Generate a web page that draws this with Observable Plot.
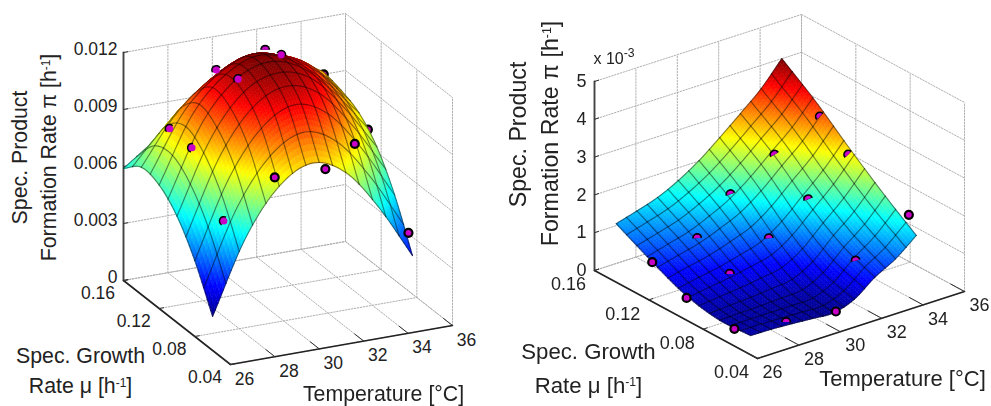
<!DOCTYPE html>
<html><head><meta charset="utf-8">
<script src="https://cdn.jsdelivr.net/npm/d3@7"></script>
<script src="https://cdn.jsdelivr.net/npm/@observablehq/plot@0.6"></script>
<style>html,body{margin:0;padding:0;background:#fff}#c{display:flex;width:991px;height:406px}svg{display:block}</style>
</head><body><div id="c"></div>
<script>
const temperatureTicks = [26,28,30,32,34,36];
const muTicks = [0.16,0.12,0.08,0.04];
const muTickLabels = ["0.16","0.12","0.08","0.04"];

// Left surface: read at these temperatures / growth rates
const leftT = [26,27.5,29,30.5,32,33.5,35];
const leftMu = [0.16,0.14,0.12,0.10,0.08,0.06];
const leftRow016 = [.0059,.0072,.0088,.0098,.0104,.0101,.00915];
const leftRow014 = [.0067,.0091,.0106,.0115,.0114,.0106,.0089];
const leftRow012 = [.0065,.0099,.0117,.0124,.0118,.0104,.00845];
const leftRow010 = [.0056,.00933,.01150,.0122,.01165,.0098,.0074];
const leftRow008 = [.0040,.00793,.01034,.01127,.01048,.00838,.0056];
const leftRow006 = [.0018,.00565,.00803,.00894,.00813,.00597,.00315];
const leftZTicks = [0,.003,.006,.009,.012];
const leftZLabels = ["0","0.003","0.006","0.009","0.012"];
const leftDotT  = [32,33,30,30,34,28,28,35,34,30,32,28,35];
const leftDotMu = [.1505,.1574,.1556,.131,.1346,.158,.133,.11,.0998,.09,.083,.0973,.0645];
const leftDotZ  = [.01126,.01054,.01042,.01085,.01014,.00765,.00757,.00794,.00777,.00719,.00747,.00503,.00418];
const leftDotKind = ["half","ring","ring","ring","behind","ring","ring","behind","full","full","full","ring","full"];
const leftDotTilt = [0,20,-30,-45,0,-45,-75,0,0,0,0,-60,0];

// Right surface (values in 10^-3 h^-1)
const rightT = [26,27,28,29,30,31,32,33,34];
const rightMu = [0.144,0.12,0.095,0.07,0.045];
const rightRow144 = [1.55,1.71,1.89,2.16,2.51,2.94,3.40,3.88,4.50];
const rightRow120 = [1.09,1.24,1.39,1.62,1.90,2.30,2.78,3.25,3.85];
const rightRow095 = [.68,.78,.87,1.00,1.15,1.50,2.00,2.50,3.10];
const rightRow070 = [.48,.50,.52,.55,.60,.88,1.38,1.82,2.39];
const rightRow045 = [.51,.50,.47,.43,.40,.58,.99,1.30,1.74];
const rightZTicks = [0,1,2,3,4,5];
const rightZLabels = ["0","1","2","3","4","5"];
const rightDotT  = [34,32,34,30,32,34,28.5,30,26,31.5,28.5,26,30.9,28.5,26];
const rightDotMu = [.116,.1189,.0951,.1208,.0941,.0505,.1225,.0926,.1175,.0515,.0985,.0922,.057,.057,.057];
const rightDotZ  = [3.51,2.80,2.91,2.07,2.10,2.18,1.14,1.45,1.045,1.39,.66,.59,.045,.19,.455];
const rightDotKind = ["half","half","half","half","half","full","half","half","full","half","half","full","full","half","full"];
const rightDotTilt = [-45,-30,-45,-20,-20,0,-5,-5,0,-15,0,0,0,0,0];

const FONT = "'Liberation Sans',Arial,sans-serif";
const JET = ["#000090","#0000ff","#00ffff","#ffff00","#ff0000","#800000"];
const JET_STOPS = [0,.125,.375,.625,.875,1];
const MAGENTA = "#c800c8";

function halfDisc(){return {draw(ctx,size){const r=Math.sqrt(size/Math.PI);ctx.moveTo(-r,0);ctx.arc(0,0,r,Math.PI,2*Math.PI);ctx.closePath();}};}

function catmull(a,b,c,d,t){return .5*(2*b+(c-a)*t+(2*a-5*b+4*c-d)*t*t+(3*b-a-3*c+d)*t*t*t);}
function at(arr,i){const n=arr.length;return i<0?2*arr[0]-arr[1]:i>=n?2*arr[n-1]-arr[n-2]:arr[i];}
function along(arr,f){const i=Math.min(Math.floor(f),arr.length-2),t=f-i;return catmull(at(arr,i-1),at(arr,i),at(arr,i+1),at(arr,i+2),t);}
function sample(rows,fr,fc){return along(rows.map(r=>along(r,fc)),fr);}

function panel(cfg){
  const {x0,w,origin,tVec,muVec,zPx,zMax}=cfg;
  const P=(T,mu,z)=>{const a=(T-26)/10,b=(.16-mu)/.12;return {x:origin[0]+a*tVec[0]+b*muVec[0],y:origin[1]+a*tVec[1]+b*muVec[1]-z*zPx};};
  const marks=[];
  const seg=(list,opt)=>marks.push(Plot.line(list.flatMap((s,i)=>s.map(p=>({...P(...p),id:i}))),{x:"x",y:"y",z:"id",...opt}));
  // grid
  const g=[];
  for(const T of temperatureTicks){g.push([[T,.16,0],[T,.04,0]]);g.push([[T,.16,0],[T,.16,zMax]]);}
  for(const m of muTicks){g.push([[26,m,0],[36,m,0]]);g.push([[36,m,0],[36,m,zMax]]);}
  for(const z of cfg.zTicks){g.push([[26,.16,z],[36,.16,z]]);g.push([[36,.16,z],[36,.04,z]]);}
  seg(g,{stroke:"#b0b0b0",strokeWidth:1,strokeDasharray:"1.5 1.5"});
  // axes
  seg([[[26,.16,0],[26,.16,zMax]]],{stroke:"#444",strokeWidth:1.9});
  seg([[[26,.16,0],[26,.04,0]],[[26,.04,0],[36,.04,0]]],{stroke:"#222",strokeWidth:1.6});
  const tks=[];
  for(const T of temperatureTicks) tks.push([[T,.04,0],[T,.05,0]]);
  for(const m of muTicks) tks.push([[26,m,0],[26.2,m,0]]);
  for(const z of cfg.zTicks) tks.push([[26,.16,z],[26.2,.16,z]]);
  seg(tks,{stroke:"#333",strokeWidth:1});

  const dots=cfg.dots.T.map((T,i)=>({...P(T,cfg.dots.mu[i],cfg.dots.z[i]),kind:cfg.dots.kind[i],tilt:cfg.dots.tilt[i]}));
  const fullStyle={x:"x",y:"y",r:4,fill:MAGENTA,stroke:"#000",strokeWidth:2.2};
  marks.push(Plot.dot(dots.filter(d=>d.kind==="behind"),fullStyle));

  // surface, painted from the far corner forwards
  const {rows,nT,nMu,sub,T0,T1,mu0,mu1}=cfg;
  const colMax=rows[0].length-1,rowMax=rows.length-1;
  const node=(a,b)=>{
    const fc=a/(nT*sub)*colMax,fr=b/(nMu*sub)*rowMax;
    const z=sample(rows,fr,fc);
    return {...P(T0+(T1-T0)*a/(nT*sub),mu0+(mu1-mu0)*b/(nMu*sub),z),v:z};
  };
  const N=[];
  for(let a=0;a<=nT*sub;a++){N[a]=[];for(let b=0;b<=nMu*sub;b++)N[a][b]=node(a,b);}
  const meshStyle={x:"x",y:"y",z:"id",stroke:"#000",strokeOpacity:.46,strokeWidth:1.15};
  for(let im=0;im<nMu;im++){
    for(let it=nT-1;it>=0;it--){
      const polys=[],edges=[];let id=0;
      for(let a=it*sub;a<(it+1)*sub;a++)for(let b=im*sub;b<(im+1)*sub;b++){
        const q=[N[a][b],N[a+1][b],N[a+1][b+1],N[a][b+1]];
        const v=d3.mean(q,d=>d.v);
        for(const p of q)polys.push({x:p.x,y:p.y,v,id});
        id++;
      }
      marks.push(Plot.line(polys,{x:"x",y:"y",z:"id",fill:"v",stroke:"v",strokeWidth:.6,curve:"linear-closed"}));
      const edge=(k,pts)=>pts.forEach(p=>edges.push({x:p.x,y:p.y,id:k}));
      const line=(f)=>d3.range(sub+1).map(f);
      edge(0,line(s=>N[it*sub+s][im*sub]));
      edge(1,line(s=>N[(it+1)*sub][im*sub+s]));
      if(im===nMu-1)edge(2,line(s=>N[it*sub+s][(im+1)*sub]));
      if(it===0)edge(3,line(s=>N[0][im*sub+s]));
      marks.push(Plot.line(edges,meshStyle));
    }
  }
  // dots in front
  marks.push(Plot.dot(dots.filter(d=>d.kind==="full"),fullStyle));
  const halves=dots.filter(d=>d.kind==="half"),rings=dots.filter(d=>d.kind==="ring");
  marks.push(Plot.dot(rings,{x:"x",y:"y",r:5.1,fill:"#000",symbol:halfDisc(),rotate:"tilt"}));
  marks.push(Plot.dot(rings,{x:"x",y:"y",r:3.6,fill:MAGENTA}));
  marks.push(Plot.dot(halves,{x:"x",y:"y",r:5.1,fill:"#000",symbol:halfDisc(),rotate:"tilt"}));
  marks.push(Plot.dot(halves,{x:"x",y:"y",r:3.4,fill:MAGENTA,symbol:halfDisc(),rotate:"tilt"}));

  // tick labels
  const tx={fontFamily:FONT,fontSize:cfg.tickSize,fill:"#222"};
  marks.push(Plot.text(cfg.zTicks.map((z,i)=>({...P(26,.16,z),s:cfg.zLabels[i]})),{x:"x",y:"y",text:"s",textAnchor:"end",dx:cfg.zDx,dy:cfg.zDy,...tx}));
  marks.push(Plot.text(muTicks.map((m,i)=>({...P(26,m,0),s:muTickLabels[i]})),{x:"x",y:"y",text:"s",dx:cfg.muOff[0],dy:cfg.muOff[1],...tx}));
  marks.push(Plot.text(temperatureTicks.map(T=>({...P(T,.04,0),s:String(T)})),{x:"x",y:"y",text:"s",dx:cfg.tOff[0],dy:cfg.tOff[1],...tx}));
  // titles
  for(const t of cfg.titles){
    marks.push(Plot.text([t.s],{frameAnchor:"top-left",text:d=>d,dx:t.at[0]-x0,dy:t.at[1],rotate:t.rot||0,fontFamily:FONT,fontSize:t.size,fill:"#222",textAnchor:t.anchor||"middle",lineAnchor:"middle"}));
  }
  const d=cfg.zRange[1]-cfg.zRange[0];
  const svg=Plot.plot({width:w,height:406,margin:0,
    x:{domain:[x0,x0+w],axis:null},
    y:{domain:[406,0],axis:null},
    color:{type:"linear",domain:JET_STOPS.map(t=>cfg.zRange[0]+t*d),range:JET,clamp:true},
    style:{background:"#fff",overflow:"visible",filter:"blur(0.6px)"},
    marks});
  // raised exponents as real superscript text
  svg.querySelectorAll("text").forEach(el=>{
    const s=el.textContent;
    const m=s.match(/^(.*)\^(-\d)(.*)$/);
    if(!m)return;
    const fs=parseFloat(getComputedStyle(el).fontSize)||cfg.tickSize;
    const host=el.querySelector("tspan")||el;
    host.textContent="";
    const NS="http://www.w3.org/2000/svg";
    const add=(txt,attrs)=>{const t=document.createElementNS(NS,"tspan");t.textContent=txt;for(const k in attrs)t.setAttribute(k,attrs[k]);host.appendChild(t);};
    add(m[1],{});
    add(m[2],{dy:-fs*.36,"font-size":fs*.68});
    if(m[3])add(m[3],{dy:fs*.36});
  });
  return svg;
}

const c=document.getElementById("c");
c.append(panel({
  x0:0,w:490,origin:[123,280],tVec:[222,-39],muVec:[107,84],zPx:19000,zMax:.012,
  zTicks:leftZTicks,zLabels:leftZLabels,zDx:-6,zDy:-3,muOff:[-25.5,12.5],tOff:[14,14.5],tickSize:17.5,
  rows:[leftRow016,leftRow014,leftRow012,leftRow010,leftRow008,leftRow006],
  nT:15,nMu:10,sub:5,T0:leftT[0],T1:leftT[leftT.length-1],mu0:leftMu[0],mu1:leftMu[leftMu.length-1],
  zRange:[.0018,.0124],
  dots:{T:leftDotT,mu:leftDotMu,z:leftDotZ,kind:leftDotKind,tilt:leftDotTilt},
  titles:[
    {s:"Spec. Product",at:[20,157],rot:-90,size:21.3},
    {s:"Formation Rate π [h^-1]",at:[49,157],rot:-90,size:21.3},
    {s:"Spec. Growth",at:[80,356],size:21.3},
    {s:"Rate μ [h^-1]",at:[80,386],size:21.3},
    {s:"Temperature [°C]",at:[383,394],size:21.3}
  ]
}));
c.append(panel({
  x0:490,w:501,origin:[594,270],tVec:[207,-67],muVec:[163,88],zPx:37.8,zMax:5,
  zTicks:rightZTicks,zLabels:rightZLabels,zDx:-8,zDy:0,muOff:[-26,14],tOff:[15,14],tickSize:18,
  rows:[rightRow144,rightRow120,rightRow095,rightRow070,rightRow045],
  nT:16,nMu:13,sub:4,T0:rightT[0],T1:rightT[rightT.length-1],mu0:rightMu[0],mu1:rightMu[rightMu.length-1],
  zRange:[.4,4.5],
  dots:{T:rightDotT,mu:rightDotMu,z:rightDotZ,kind:rightDotKind,tilt:rightDotTilt},
  titles:[
    {s:"Spec. Product",at:[518,134],rot:-90,size:23.2},
    {s:"Formation Rate π [h^-1]",at:[550,133],rot:-90,size:23.2},
    {s:"Spec. Growth",at:[588,351],size:22.2},
    {s:"Rate μ [h^-1]",at:[588,385],size:22.2},
    {s:"Temperature [°C]",at:[902,378],size:22},
    {s:"x 10^-3",at:[593,58],size:16,anchor:"start"}
  ]
}));
</script></body></html>
